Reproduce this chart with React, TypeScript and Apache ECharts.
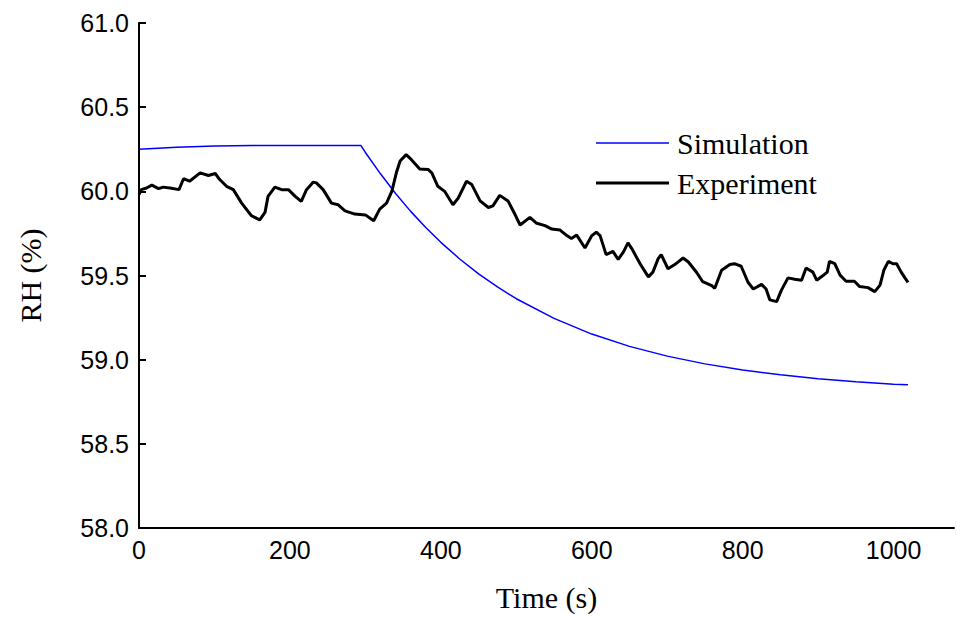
import React, { useEffect, useRef } from "react";
import * as echarts from "echarts";

const simTime = [0, 50, 100, 150, 200, 250, 294, 300, 320, 340, 360, 380, 400, 425, 450, 475, 500, 550, 600, 650, 700, 750, 800, 850, 900, 950, 1000, 1019];
const simRH = [60.25, 60.262, 60.27, 60.273, 60.273, 60.273, 60.273, 60.231, 60.104, 59.987, 59.881, 59.785, 59.697, 59.598, 59.51, 59.432, 59.362, 59.245, 59.152, 59.079, 59.021, 58.975, 58.938, 58.91, 58.887, 58.869, 58.854, 58.851];

const expTime = [0, 3, 10, 17, 26, 32, 41, 53, 59, 67, 81, 92, 101, 107, 116, 125, 136, 149, 160, 167, 171, 180, 189, 198, 207, 215, 222, 231, 235, 244, 255, 264, 273, 286, 300, 311, 319, 328, 335, 341, 346, 354, 361, 372, 383, 388, 396, 405, 416, 423, 434, 441, 452, 463, 469, 478, 489, 498, 505, 518, 527, 538, 547, 558, 567, 573, 580, 591, 600, 606, 611, 619, 628, 635, 642, 648, 653, 664, 675, 681, 688, 692, 701, 710, 721, 728, 739, 747, 759, 763, 772, 783, 789, 798, 807, 814, 825, 831, 836, 845, 851, 860, 869, 878, 884, 893, 898, 906, 912, 915, 922, 929, 937, 948, 955, 966, 975, 982, 987, 993, 999, 1004, 1010, 1015, 1019];
const expRH = [59.98, 60.01, 60.02, 60.037, 60.016, 60.025, 60.02, 60.01, 60.075, 60.06, 60.11, 60.094, 60.106, 60.07, 60.03, 60.01, 59.93, 59.855, 59.83, 59.875, 59.97, 60.025, 60.01, 60.01, 59.97, 59.94, 60.01, 60.055, 60.05, 60.01, 59.93, 59.92, 59.884, 59.865, 59.86, 59.825, 59.894, 59.93, 60.0, 60.11, 60.18, 60.218, 60.188, 60.133, 60.13, 60.11, 60.03, 60.0, 59.92, 59.96, 60.06, 60.04, 59.943, 59.904, 59.914, 59.976, 59.943, 59.865, 59.8, 59.845, 59.81, 59.796, 59.776, 59.77, 59.737, 59.72, 59.74, 59.663, 59.737, 59.757, 59.737, 59.624, 59.643, 59.596, 59.64, 59.694, 59.66, 59.57, 59.492, 59.52, 59.6, 59.624, 59.54, 59.565, 59.604, 59.58, 59.518, 59.463, 59.44, 59.424, 59.531, 59.565, 59.57, 59.555, 59.46, 59.42, 59.447, 59.42, 59.355, 59.345, 59.41, 59.486, 59.478, 59.472, 59.545, 59.52, 59.472, 59.498, 59.52, 59.584, 59.57, 59.502, 59.466, 59.466, 59.434, 59.428, 59.404, 59.443, 59.531, 59.584, 59.57, 59.57, 59.52, 59.486, 59.459];

const seriesNames = ["Simulation", "Experiment"];
const seriesColors = ["#0000ff", "#000000"];
const seriesWidths = [1.5, 3];
const xTicks = [0, 200, 400, 600, 800, 1000];

const SERIF = '"Liberation Serif", "Times New Roman", serif';
const SANS = '"Liberation Sans", Arial, sans-serif';

export default function App() {
  const ref = useRef<HTMLDivElement>(null);
  useEffect(() => {
    if (!ref.current) return;
    const chart = echarts.init(ref.current, null, { renderer: "svg" });
    const simData = simTime.map((t, i) => [t, simRH[i]]);
    const expData = expTime.map((t, i) => [t, expRH[i]]);
    const legendGraphics: any[] = [];
    seriesNames.forEach((name, i) => {
      const cy = 143 + i * 40;
      legendGraphics.push({
        type: "line",
        shape: { x1: 596, y1: cy, x2: 669, y2: cy },
        style: { stroke: seriesColors[i], lineWidth: seriesWidths[i] },
      });
      legendGraphics.push({
        type: "text",
        x: 677,
        y: cy,
        style: {
          text: name,
          fontFamily: SERIF,
          fontSize: 30,
          fill: "#000",
          verticalAlign: "middle",
          align: "left",
        },
      });
    });
    chart.setOption({
      animation: false,
      backgroundColor: "#ffffff",
      grid: { left: 139, top: 23, right: 11, bottom: 85, containLabel: false },
      graphic: legendGraphics,
      xAxis: {
        type: "value",
        min: 0,
        max: 1080,
        interval: 200,
        name: "Time (s)",
        nameLocation: "middle",
        nameGap: 54,
        nameTextStyle: { fontFamily: SERIF, fontSize: 30, color: "#000" },
        axisLine: { show: true, lineStyle: { color: "#000", width: 2 } },
        axisTick: { show: false },
        splitLine: { show: false },
        axisLabel: {
          fontFamily: SANS,
          fontSize: 25,
          color: "#000",
          margin: 9,
          formatter: (v: number) => (xTicks.indexOf(v) >= 0 ? String(v) : ""),
        },
      },
      yAxis: {
        type: "value",
        min: 58,
        max: 61,
        interval: 0.5,
        name: "RH (%)",
        nameLocation: "middle",
        nameGap: 94,
        nameTextStyle: { fontFamily: SERIF, fontSize: 30, color: "#000" },
        axisLine: { show: true, lineStyle: { color: "#000", width: 2 } },
        axisTick: { show: true, inside: true, length: 7, lineStyle: { color: "#000", width: 2 } },
        splitLine: { show: false },
        axisLabel: {
          fontFamily: SANS,
          fontSize: 25,
          color: "#000",
          margin: 10,
          formatter: (v: number) => v.toFixed(1),
        },
      },
      series: [
        {
          name: seriesNames[0],
          type: "line",
          data: simData,
          showSymbol: false,
          symbol: "none",
          lineStyle: { color: seriesColors[0], width: seriesWidths[0] },
          itemStyle: { color: seriesColors[0] },
        },
        {
          name: seriesNames[1],
          type: "line",
          data: expData,
          showSymbol: false,
          symbol: "none",
          lineStyle: { color: seriesColors[1], width: seriesWidths[1] },
          itemStyle: { color: seriesColors[1] },
        },
      ],
    });
    return () => chart.dispose();
  }, []);
  return (
    <div
      ref={ref}
      style={{ position: "fixed", left: 0, top: 0, width: 965, height: 617, background: "#fff" }}
    />
  );
}
